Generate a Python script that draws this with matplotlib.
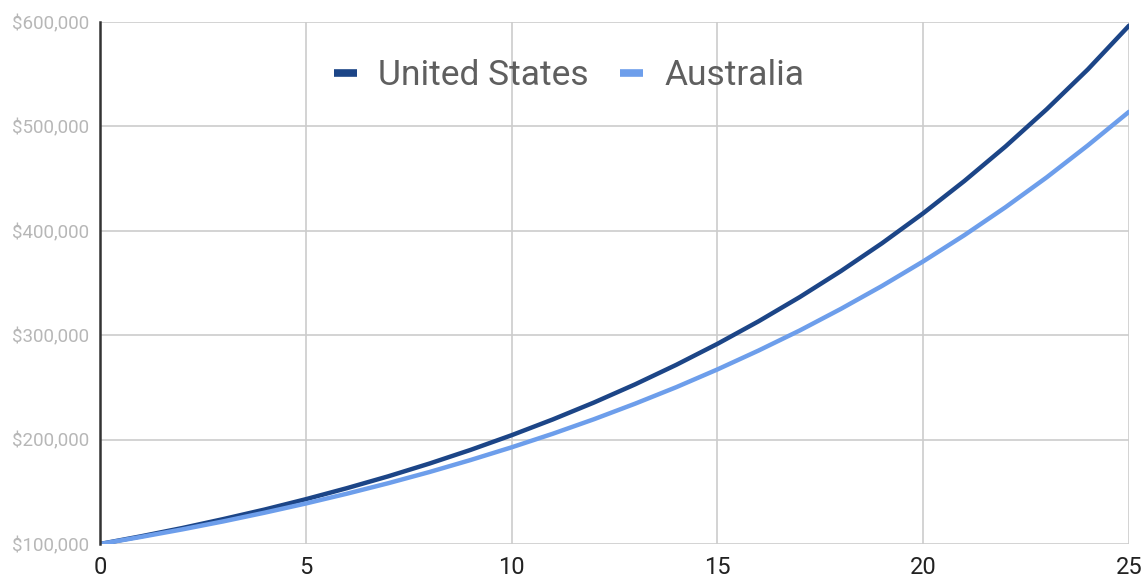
import numpy as np
import matplotlib.pyplot as plt
from matplotlib.ticker import FuncFormatter

plt.rcParams['font.family'] = ['Roboto', 'DejaVu Sans']

# Years and portfolio values
years = list(range(0, 26))
us_values = [100000, 107400, 115300, 123900, 133000, 142900, 153500, 164800, 177000,
             190100, 204200, 219300, 235500, 252900, 271600, 291700, 313300, 336500,
             361400, 388100, 416800, 447700, 480800, 516400, 554600, 596500]
au_values = [100000, 106800, 114000, 121700, 130000, 138800, 148200, 158200, 168900,
             180400, 192600, 205600, 219500, 234400, 250200, 267200, 285300, 304500,
             325200, 347200, 370700, 395800, 422600, 451200, 481800, 514000]
x_ticks = [0, 5, 10, 15, 20, 25]
y_ticks = [100000, 200000, 300000, 400000, 500000, 600000]

fig = plt.figure(figsize=(11.46, 5.81), dpi=100)
ax = fig.add_axes([100 / 1146, 1 - 544 / 581, 1029 / 1146, 522 / 581])

ax.plot(years, us_values, color='#1c4587', linewidth=3.2, label='United States', solid_capstyle='round')
ax.plot(years, au_values, color='#6d9eeb', linewidth=3.2, label='Australia', solid_capstyle='round')

ax.set_xlim(0, 25)
ax.set_ylim(100000, 600000)
ax.set_xticks(x_ticks)
ax.set_yticks(y_ticks)
ax.yaxis.set_major_formatter(FuncFormatter(lambda v, p: f'${v:,.0f}'))

ax.grid(True, color='#cccccc', linewidth=1.2)
ax.set_axisbelow(True)
for side in ['top', 'right', 'bottom']:
    ax.spines[side].set_visible(False)
ax.spines['left'].set_color('#333333')
ax.spines['left'].set_linewidth(1.8)

ax.tick_params(axis='both', length=0)
ax.tick_params(axis='y', labelsize=13.5, labelcolor='#b7b7b7', pad=8)
ax.tick_params(axis='x', labelsize=17, labelcolor='#222222', pad=9)

leg = ax.legend(loc='upper center', bbox_to_anchor=(0.456, 0.99), ncol=2, frameon=False,
                fontsize=25.5, handlelength=0.65, handletextpad=0.6, columnspacing=0.9)
for t in leg.get_texts():
    t.set_color('#5f5f5f')
for h in leg.get_lines():
    h.set_linewidth(5.5)
    h.set_solid_capstyle('butt')

fig.savefig('out.png', dpi=100)
